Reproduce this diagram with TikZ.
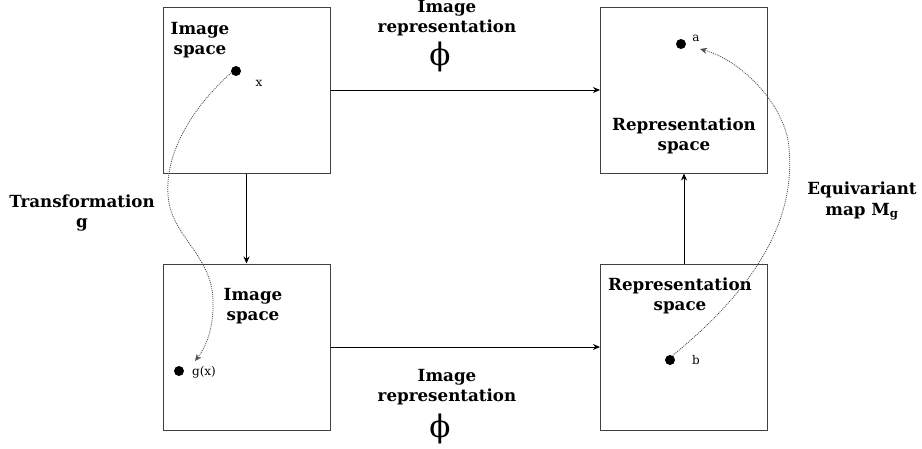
\documentclass[tikz,border=0pt]{standalone}
\usepackage{fontspec}
\setmainfont{DejaVu Serif}
\usetikzlibrary{arrows.meta}
\tikzset{
  box/.style={draw=black!75, line width=1pt, minimum width=167pt, minimum height=166pt, inner sep=0pt},
  lbl/.style={font=\fontsize{16.7}{20.5}\selectfont\bfseries, align=center, inner sep=0pt},
  small/.style={font=\fontsize{12}{14}\selectfont, inner sep=0pt},
  phi/.style={font=\fontsize{31}{34}\selectfont, inner sep=0pt},
  dot/.style={circle, fill=black, minimum size=10pt, inner sep=0pt},
  arr/.style={-{Stealth[length=7pt,width=6pt]}, line width=0.9pt, black},
  dotarr/.style={-{Stealth[length=7pt,width=6pt]}, black!70, line width=0.8pt, dash pattern=on 1pt off 1pt}
}
\begin{document}
\begin{tikzpicture}[x=1pt,y=-1pt]
\useasboundingbox (0,0) rectangle (922,448);
% boxes
\node[box] (tl) at (246.5,90) {};
\node[box] (bl) at (246.5,347) {};
\node[box] (tr) at (684,90) {};
\node[box] (br) at (684,347) {};
% box texts
\node[lbl] (tltxt) at (200,40) {Image\\space};
\node[lbl] (bltxt) at (253,306) {Image\\space};
\node[lbl] (trtxt) at (684,136) {Representation\\space};
\node[lbl] (brtxt) at (680,296) {Representation\\space};
% outer labels
\node[lbl] (toplbl) at (447,18) {Image\\representation};
\node[phi] (topphi) at (440,57) {ϕ};
\node[lbl] (botlbl) at (447,387) {Image\\representation};
\node[phi] (botphi) at (440,429) {ϕ};
\node[lbl] (trans) at (82,213) {Transformation\\g};
\node[lbl] (equiv) at (862,201) {Equivariant\\map M\textsubscript{g}};
% dots
\node[dot] (x) at (236,71) {};
\node[small] (xl) at (259,83) {x};
\node[dot] (gx) at (179,371) {};
\node[small] (gxl) at (204,372) {g(x)};
\node[dot] (a) at (681,44) {};
\node[small] (al) at (696,38) {a};
\node[dot] (b) at (670,360) {};
\node[small] (bl2) at (696,360) {b};
\coordinate (gxend) at (195,361);
\coordinate (aend) at (700,49);
% arrows
\draw[arr] (tl.east) -- (tr.west);
\draw[arr] (bl.east) -- (br.west);
\draw[arr] (tl.south) -- (bl.north);
\draw[arr] (br.north) -- (tr.south);
% dotted curves
\draw[dotarr] (x.200) .. controls (195,105) and (165,150) .. (168,195)
  .. controls (170,235) and (212,255) .. (213,300)
  .. controls (214,330) and (205,348) .. (gxend);
\draw[dotarr] (b.60) .. controls (765,280) and (798,210) .. (788,140)
  .. controls (780,100) and (740,60) .. (aend);
\end{tikzpicture}
\end{document}
